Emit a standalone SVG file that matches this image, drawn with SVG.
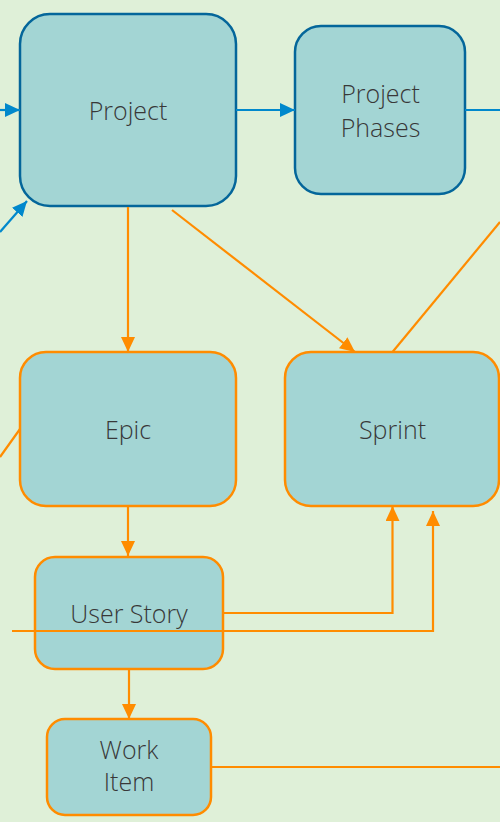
<svg xmlns="http://www.w3.org/2000/svg" width="500" height="822" viewBox="0 0 500 822">
<style>
.bg{fill:#DFF0D8}
.nb{fill:#A3D5D4;stroke:#04669A;stroke-width:2.5}
.no{fill:#A3D5D4;stroke:#FF8C00;stroke-width:2.5}
.t{font-family:"Open Sans","Liberation Sans",sans-serif;font-weight:300;font-size:25px;fill:#383838;text-anchor:middle}
.cb{fill:none;stroke:#0088CC;stroke-width:2.2}
.co{fill:none;stroke:#FF8C00;stroke-width:2.2}
</style>
<defs>
<marker id="ab" markerUnits="userSpaceOnUse" markerWidth="16" markerHeight="15" refX="15" refY="7" orient="auto"><path d="M0,0 L15,7 L0,14 z" fill="#0088CC"/></marker>
<marker id="ao" markerUnits="userSpaceOnUse" markerWidth="16" markerHeight="15" refX="15" refY="7" orient="auto"><path d="M0,0 L15,7 L0,14 z" fill="#FF8C00"/></marker>
</defs>
<rect class="bg" x="0" y="0" width="500" height="822"/>
<g id="project"><rect class="nb" x="20" y="14" width="216" height="192" rx="30"/><text class="t" x="128" y="120">Project</text></g>
<g id="project-phases"><rect class="nb" x="295" y="26" width="170" height="168" rx="26"/><text class="t" x="380.5" y="103">Project</text><text class="t" x="380.5" y="137">Phases</text></g>
<g id="epic"><rect class="no" x="20" y="352" width="216" height="154" rx="26"/><text class="t" x="128" y="439">Epic</text></g>
<g id="sprint"><rect class="no" x="285" y="352" width="214" height="154" rx="26"/><text class="t" x="392.5" y="439">Sprint</text></g>
<g id="user-story"><rect class="no" x="35" y="557" width="188" height="112" rx="20"/><text class="t" x="129" y="623">User Story</text></g>
<g id="work-item"><rect class="no" x="47" y="719" width="164" height="96" rx="18"/><text class="t" x="129" y="759">Work</text><text class="t" x="129" y="791">Item</text></g>
<g id="connectors">
<path class="cb" d="M0,110 L20,110" marker-end="url(#ab)"/>
<path class="cb" d="M0,232 L27,201" marker-end="url(#ab)"/>
<path class="cb" d="M236,110 L295,110" marker-end="url(#ab)"/>
<path class="cb" d="M465,110 L500,110"/>
<path class="co" d="M128,207 L128,352" marker-end="url(#ao)"/>
<path class="co" d="M172,210 L355,352" marker-end="url(#ao)"/>
<path class="co" d="M392.5,352 L500,222"/>
<path class="co" d="M20,429 L0,457"/>
<path class="co" d="M128,506 L128,556" marker-end="url(#ao)"/>
<path class="co" d="M223,613 L392.5,613 L392.5,506" marker-end="url(#ao)"/>
<path class="co" d="M12,631 L433,631 L433,511" marker-end="url(#ao)"/>
<path class="co" d="M129,669 L129,719" marker-end="url(#ao)"/>
<path class="co" d="M211,767 L500,767"/>
</g>
</svg>
